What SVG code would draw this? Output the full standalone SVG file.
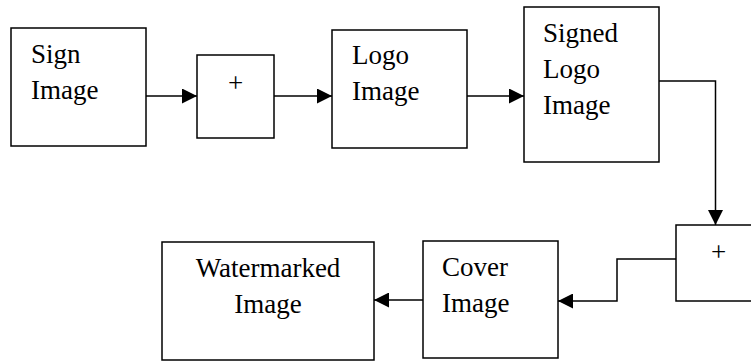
<svg xmlns="http://www.w3.org/2000/svg" width="751" height="362" viewBox="0 0 751 362">
<style>
.box{fill:#fff;stroke:#000;stroke-width:1.5}
.t{font-family:"Liberation Serif","Times New Roman",serif;font-size:27px;fill:#000}
.c{fill:none;stroke:#000;stroke-width:1.5}
</style>
<defs>
<marker id="ah" markerUnits="userSpaceOnUse" markerWidth="15" markerHeight="15" viewBox="0 0 15 15" refX="15" refY="7.5" orient="auto">
<path d="M0,0 L15,7.5 L0,15 Z" fill="#000"/>
</marker>
</defs>
<rect width="751" height="362" fill="#fff"/>
<g id="connectors">
<path class="c" d="M146,96 L197,96" marker-end="url(#ah)"/>
<path class="c" d="M274,96 L332,96" marker-end="url(#ah)"/>
<path class="c" d="M467,96 L524,96" marker-end="url(#ah)"/>
<path class="c" d="M659,81 L715.5,81 L715.5,225" marker-end="url(#ah)"/>
<path class="c" d="M676,259 L617,259 L617,301 L558,301" marker-end="url(#ah)"/>
<path class="c" d="M423,300 L374,300" marker-end="url(#ah)"/>
</g>
<g id="sign">
<rect class="box" x="11" y="28" width="135" height="118"/>
<text class="t" x="31" y="63">Sign</text>
<text class="t" x="31" y="99">Image</text>
</g>
<g id="plus1">
<rect class="box" x="197" y="55" width="77" height="83"/>
<text class="t" x="235.5" y="92" text-anchor="middle">+</text>
</g>
<g id="logo">
<rect class="box" x="332" y="30" width="135" height="118"/>
<text class="t" x="352" y="64">Logo</text>
<text class="t" x="352" y="100">Image</text>
</g>
<g id="signedlogo">
<rect class="box" x="524" y="7" width="135" height="155"/>
<text class="t" x="543" y="42">Signed</text>
<text class="t" x="543" y="78">Logo</text>
<text class="t" x="543" y="114">Image</text>
</g>
<g id="plus2">
<rect class="box" x="676" y="225" width="85" height="76"/>
<text class="t" x="718.5" y="261" text-anchor="middle">+</text>
</g>
<g id="cover">
<rect class="box" x="423" y="241" width="135" height="117"/>
<text class="t" x="442" y="276">Cover</text>
<text class="t" x="442" y="312">Image</text>
</g>
<g id="watermarked">
<rect class="box" x="162" y="242" width="212" height="118"/>
<text class="t" x="268" y="277" text-anchor="middle">Watermarked</text>
<text class="t" x="268" y="313" text-anchor="middle">Image</text>
</g>
</svg>
